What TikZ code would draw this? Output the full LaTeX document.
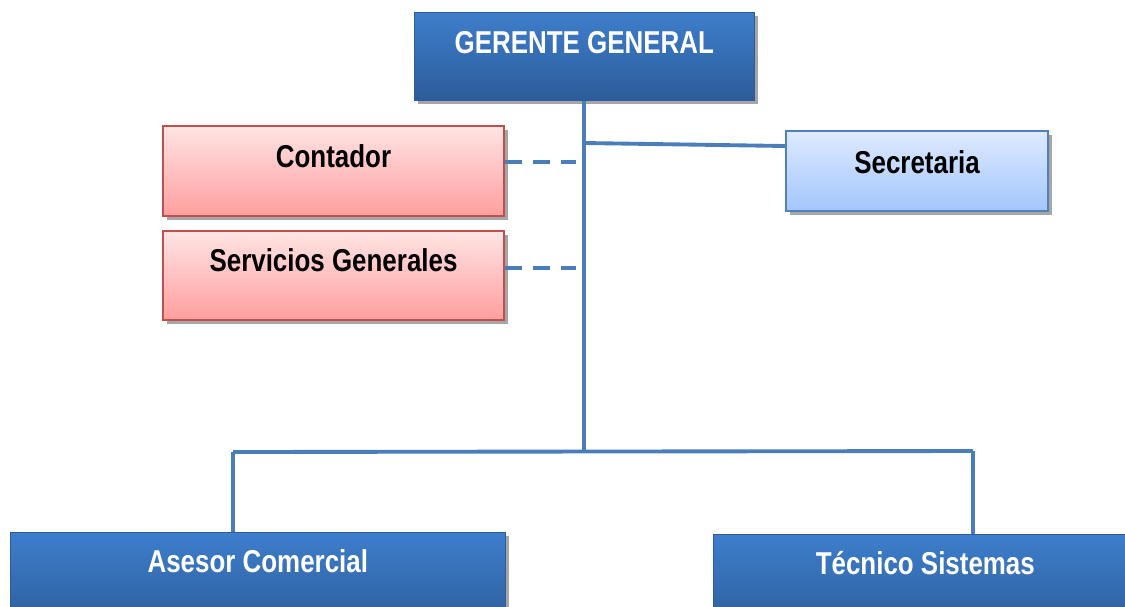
\documentclass[tikz,border=0pt]{standalone}
\usepackage{fontspec}
\setmainfont{Liberation Sans}[FakeStretch=0.82]
\usetikzlibrary{positioning,shadows}
\definecolor{azularriba}{RGB}{62,126,204}
\definecolor{azulabajo}{RGB}{44,92,153}
\definecolor{rosaarriba}{RGB}{255,228,228}
\definecolor{rosaabajo}{RGB}{255,158,158}
\definecolor{rojoborde}{RGB}{192,80,77}
\definecolor{celestearriba}{RGB}{222,234,255}
\definecolor{celesteabajo}{RGB}{163,198,252}
\definecolor{azulborde}{RGB}{79,129,189}
\definecolor{lineacol}{RGB}{74,125,187}
\tikzset{
  sombra/.style={drop shadow={shadow xshift=2pt,shadow yshift=-2pt,fill=black!35,opacity=1}},
  caja/.style={inner sep=0pt,anchor=north west,font=\bfseries\fontsize{18}{20}\selectfont,sombra},
  cargo/.style={caja,text=white,top color=azularriba,bottom color=azulabajo,draw=azulabajo},
  apoyo/.style={caja,top color=rosaarriba,bottom color=rosaabajo,draw=rojoborde,line width=1.2pt},
  asist/.style={caja,top color=celestearriba,bottom color=celesteabajo,draw=azulborde,line width=1.2pt},
  linea/.style={draw=lineacol,line width=2.2pt},
  punteada/.style={draw=lineacol,line width=2.2pt,dash pattern=on 9.6pt off 6.2pt}
}

\begin{document}
\begin{tikzpicture}[x=0.02cm,y=-0.02cm]
\clip (0,0) rectangle (1125,606);

% Cajas
\node[cargo,minimum width=6.8cm,text height=0.82cm,text depth=0.94cm] (ger) at (414,12) {GERENTE GENERAL};
\node[apoyo,minimum width=6.82cm,text height=0.82cm,text depth=0.98cm] (cont) at (162,125) {Contador};
\node[apoyo,minimum width=6.82cm,text height=0.8cm,text depth=0.98cm,below=0.26cm of cont.south west,anchor=north west] (serv) {Servicios Generales};
\node[asist,minimum width=5.24cm,text height=0.84cm,text depth=0.76cm] (secr) at (785,130) {Secretaria};
\node[cargo,minimum width=9.9cm,text height=0.8cm,text depth=1.2cm] (ases) at (10,532) {Asesor Comercial};
\node[cargo,minimum width=8.48cm,text height=0.8cm,text depth=1.2cm] (tec) at (713,534) {Técnico Sistemas};

% Lineas
\coordinate (rama) at (ger.south |- 0,143);
\coordinate (nudo) at (ger.south |- 0,452);
\coordinate (izq) at (233,452);
\coordinate (der) at (973,451);
\coordinate (d1) at (576,162);
\coordinate (d2) at (576,268);

\draw[linea] (ger.south) -- (nudo);
\draw[linea] (rama) -- ([shift={(0,16)}]secr.north west);
\draw[punteada] (cont.east |- d1) -- (d1);
\draw[punteada] (serv.east |- d2) -- (d2);
\draw[linea] (izq) -- (der);
\draw[linea] (izq) -- (izq |- ases.north);
\draw[linea] (der) -- (der |- tec.north);

\end{tikzpicture}
\end{document}
